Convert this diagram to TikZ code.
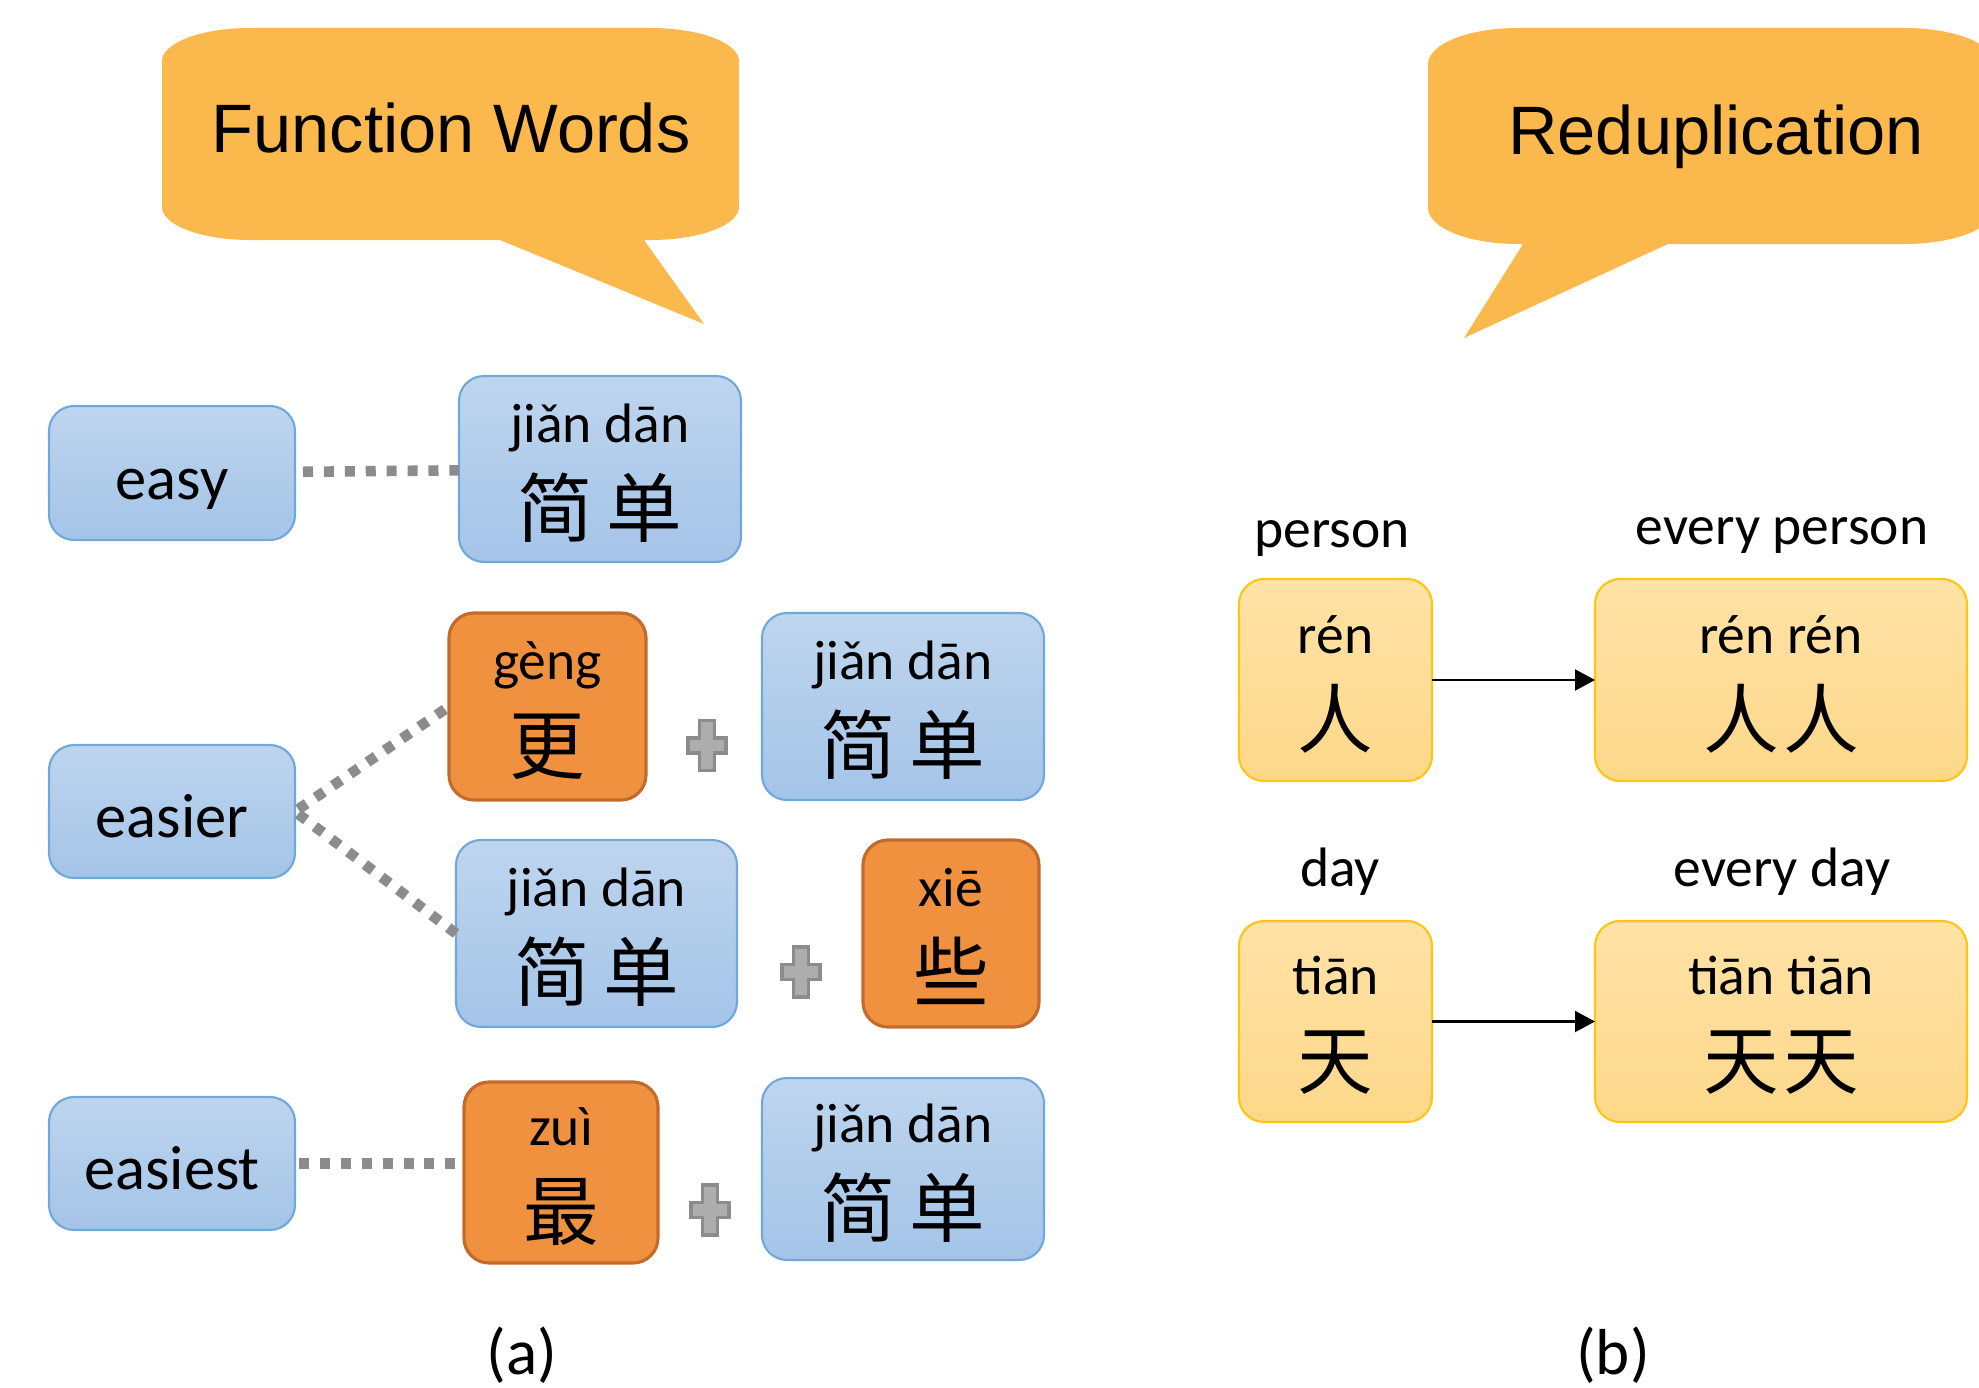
\documentclass[tikz,border=0pt]{standalone}
\usepackage{fontspec}
\setmainfont{Carlito}
\newfontfamily\headfont{Liberation Sans}
\newfontfamily\cjk{Noto Sans CJK SC}
\usetikzlibrary{arrows.meta}

\definecolor{bubblefill}{HTML}{FBB84D}
\definecolor{bluetop}{HTML}{BED5EE}
\definecolor{bluebot}{HTML}{A4C4E8}
\definecolor{blueline}{HTML}{6FA8DC}
\definecolor{orangefill}{HTML}{F0913F}
\definecolor{orangeline}{HTML}{C46A2B}
\definecolor{yellowtop}{HTML}{FFE2A6}
\definecolor{yellowbot}{HTML}{FDD88A}
\definecolor{yellowline}{HTML}{FFC513}
\definecolor{dotgray}{HTML}{8C8C8C}
\definecolor{plusgray}{HTML}{ADADAD}

\tikzset{
  box/.style={rounded corners=0.25cm, inner sep=0pt, outer sep=0pt},
  word/.style={box, draw=blueline, line width=0.6pt, top color=bluetop, bottom color=bluebot,
    minimum width=2.46cm, minimum height=1.33cm, font=\fontsize{17.8}{20}\selectfont,
    text height=16pt, text depth=1.2pt},
  bluecard/.style={box, draw=blueline, line width=0.6pt, top color=bluetop, bottom color=bluebot},
  orangecard/.style={box, draw=orangeline, line width=0.9pt, fill=orangefill},
  yellowcard/.style={box, draw=yellowline, line width=0.6pt, top color=yellowtop, bottom color=yellowbot},
  pinyin/.style={anchor=base, inner sep=0pt, font=\fontsize{15.8}{19}\selectfont},
  hanzi/.style={anchor=base, inner sep=0pt, font=\cjk\fontsize{21.5}{26}\selectfont},
  gloss/.style={anchor=base, inner sep=0pt, font=\fontsize{15.8}{19}\selectfont},
  headline/.style={anchor=base, inner sep=0pt, font=\headfont\fontsize{19.5}{23}\selectfont},
  caption/.style={anchor=base, inner sep=0pt, font=\fontsize{18.5}{22}\selectfont},
  dots/.style={draw=dotgray, line width=3pt, dash pattern=on 2.85pt off 3.1pt},
  link/.style={-{Triangle[length=0.2cm,width=0.21cm]}, line width=0.6pt},
  plusmark/.style={fill=plusgray, draw=dotgray, line width=1.1pt},
}

% pinyin above, characters below
\newcommand\cardtext[3]{%
  \node[pinyin] (#1-py) at ([yshift=0.27cm]#1.center) {#2};
  \node[hanzi] (#1-hz) at ([yshift=-0.67cm]#1.center) {#3};}
\newcommand\plussign[2]{%
  \coordinate (#1) at (#2);
  \filldraw[plusmark] ([shift={(-0.075,0.25)}]#1) -- ++(0.15,0) -- ++(0,-0.175) -- ++(0.115,0)
    -- ++(0,-0.15) -- ++(-0.115,0) -- ++(0,-0.175) -- ++(-0.15,0) -- ++(0,0.175)
    -- ++(-0.115,0) -- ++(0,0.15) -- ++(0.115,0) -- cycle;}

\begin{document}
\begin{tikzpicture}
\useasboundingbox (0,0) rectangle (19.79,13.87);
\clip (0,0) rectangle (19.79,13.87);

%% speech bubbles
\fill[bubblefill] (1.62,13.26) -- (1.62,11.80) arc[start angle=180,end angle=270,x radius=0.88,y radius=0.33]
  -- (5.00,11.47) -- (7.04,10.63) -- (6.44,11.47) -- (6.51,11.47)
  arc[start angle=270,end angle=360,x radius=0.88,y radius=0.33] -- (7.39,13.26)
  arc[start angle=0,end angle=90,x radius=0.88,y radius=0.33] -- (2.50,13.59)
  arc[start angle=90,end angle=180,x radius=0.88,y radius=0.33] -- cycle;
\node[headline] (fw) at (4.51,12.35) {Function Words};

\fill[bubblefill] (14.28,13.23) -- (14.28,11.79) arc[start angle=180,end angle=270,x radius=0.90,y radius=0.36]
  -- (15.23,11.43) -- (14.64,10.49) -- (16.68,11.43) -- (19.05,11.43)
  arc[start angle=270,end angle=360,x radius=0.90,y radius=0.36] -- (19.95,13.23)
  arc[start angle=0,end angle=90,x radius=0.90,y radius=0.36] -- (15.18,13.59)
  arc[start angle=90,end angle=180,x radius=0.90,y radius=0.36] -- cycle;
\node[headline] (redup) at (17.16,12.33) {Reduplication};

%% (a) function words
\node[word, minimum height=1.34cm] (easy) at (1.72,9.14) {easy};
\node[word] (easier) at (1.72,5.755) {easier};
\node[word] (easiest) at (1.72,2.235) {easiest};

\node[bluecard, minimum width=2.82cm, minimum height=1.86cm] (jd1) at (6.00,9.18) {};
\cardtext{jd1}{jiǎn dān}{简\kern0.18em 单}

\node[orangecard, minimum width=1.97cm, minimum height=1.87cm] (geng) at (5.475,6.805) {};
\cardtext{geng}{gèng}{更}
\plussign{plus1}{7.07,6.415}
\node[bluecard, minimum width=2.82cm, minimum height=1.87cm] (jd2) at (9.03,6.805) {};
\cardtext{jd2}{jiǎn dān}{简\kern0.18em 单}

\node[bluecard, minimum width=2.81cm, minimum height=1.87cm] (jd3) at (5.965,4.535) {};
\cardtext{jd3}{jiǎn dān}{简\kern0.18em 单}
\plussign{plus2}{8.01,4.15}
\node[orangecard, minimum width=1.76cm, minimum height=1.87cm] (xie) at (9.51,4.535) {};
\cardtext{xie}{xiē}{些}

\node[orangecard, minimum width=1.94cm, minimum height=1.81cm] (zui) at (5.61,2.145) {};
\cardtext{zui}{zuì}{最}
\plussign{plus3}{7.10,1.77}
\node[bluecard, minimum width=2.82cm, minimum height=1.82cm] (jd4) at (9.03,2.18) {};
\cardtext{jd4}{jiǎn dān}{简\kern0.18em 单}

\draw[dots, shorten <=0.08cm] (easy) -- (jd1);
\draw[dots, shorten <=0.04cm] (easier.east) -- (geng.west);
\draw[dots, shorten <=0.04cm] (easier.east) -- (jd3.west);
\draw[dots, shorten <=0.04cm] (easiest.east) -- (easiest.east -| zui.west);

\node[caption] (capa) at (5.22,0.13) {(a)};

%% (b) reduplication
\node[yellowcard, minimum width=1.93cm, minimum height=2.02cm] (ren) at (13.355,7.07) {};
\cardtext{ren}{rén}{人}
\node[yellowcard, minimum width=3.72cm, minimum height=2.02cm] (renren) at (17.81,7.07) {};
\cardtext{renren}{rén rén}{人\kern0.06em 人}
\node[gloss] (person) at (13.32,8.40) {person};
\node[gloss] (everyperson) at (17.82,8.43) {every person};

\node[yellowcard, minimum width=1.93cm, minimum height=2.01cm] (tian) at (13.355,3.655) {};
\cardtext{tian}{tiān}{天}
\node[yellowcard, minimum width=3.72cm, minimum height=2.01cm] (tiantian) at (17.81,3.655) {};
\cardtext{tiantian}{tiān tiān}{天\kern0.06em 天}
\node[gloss] (day) at (13.40,5.01) {day};
\node[gloss] (everyday) at (17.82,5.01) {every day};

\draw[link] (ren) -- (renren);
\draw[link] (tian) -- (tiantian);

\node[caption] (capb) at (16.13,0.13) {(b)};
\end{tikzpicture}
\end{document}
